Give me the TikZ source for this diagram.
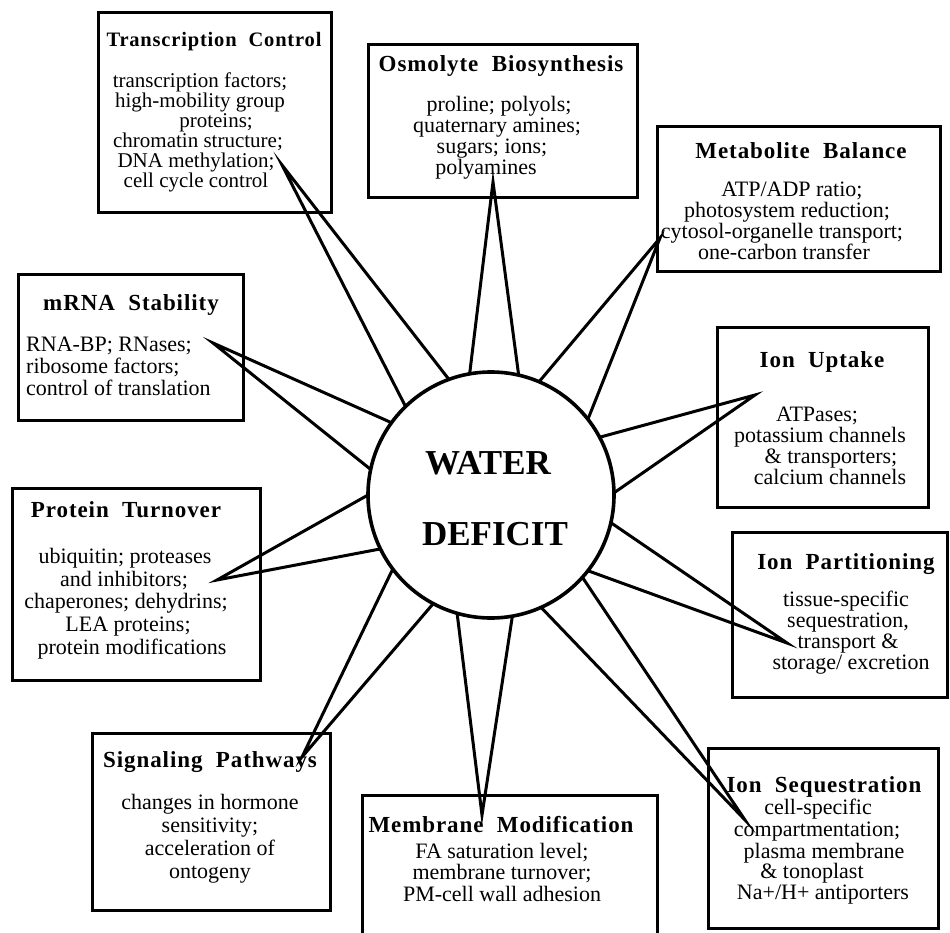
\documentclass[tikz,border=0pt]{standalone}
\usepackage{fontspec}
\setmainfont{Liberation Serif}
\newfontfamily\ttlfont[LetterSpace=4]{Liberation Serif}
\begin{document}
\begin{tikzpicture}[x=1pt,y=-1pt,
  box/.style={draw, line width=3pt, anchor=north west, inner sep=0pt, outer sep=0pt},
  ttl/.style={font=\ttlfont\bfseries\fontsize{23}{23}\selectfont, anchor=base, inner sep=0pt},
  bodytxt/.style={font=\fontsize{22}{22}\selectfont, anchor=base, inner sep=0pt},
  smalltxt/.style={font=\fontsize{21}{21}\selectfont, anchor=base, inner sep=0pt},
  spike/.style={line width=3pt, line join=miter, miter limit=30},
  hub/.style={circle, draw, line width=3.6pt, fill=white, minimum size=246pt, inner sep=0pt, outer sep=0pt},
  hubtxt/.style={font=\bfseries\fontsize{35}{35}\selectfont, anchor=base, inner sep=0pt}]
\useasboundingbox (0,0) rectangle (950,933);
\fill[white] (0,0) rectangle (950,933);
\clip (0,0) rectangle (950,933);

% boxes
\node[box, minimum width=233pt, minimum height=200pt] (tc) at (98,13) {};
\node[box, minimum width=269pt, minimum height=153pt] (ob) at (368,45) {};
\node[box, minimum width=283pt, minimum height=145pt] (mb) at (657,127) {};
\node[box, minimum width=225pt, minimum height=145pt] (ms) at (18,275) {};
\node[box, minimum width=211pt, minimum height=180pt] (iu) at (717,327) {};
\node[box, minimum width=248pt, minimum height=192pt] (pt) at (12,488) {};
\node[box, minimum width=215pt, minimum height=165pt] (ip) at (732,532) {};
\node[box, minimum width=238pt, minimum height=177pt] (sp) at (92,733) {};
\node[box, minimum width=295pt, minimum height=160pt] (mm) at (362,795) {};
\node[box, minimum width=230pt, minimum height=180pt] (is) at (708,748) {};

% titles
\node[ttl, font=\ttlfont\bfseries\fontsize{20.5}{21}\selectfont] (tct) at (214,47) {Transcription~~Control};
\node[ttl] (obt) at (501,72) {Osmolyte~~Biosynthesis};
\node[ttl] (mbt) at (801,159) {Metabolite~~Balance};
\node[ttl] (mst) at (131,310) {mRNA~~Stability};
\node[ttl] (iut) at (822,367) {Ion~~Uptake};
\node[ttl] (ptt) at (126,517) {Protein~~Turnover};
\node[ttl] (ipt) at (846,569) {Ion~~Partitioning};
\node[ttl] (spt) at (210,767) {Signaling~~Pathways};
\node[ttl] (mmt) at (501,832) {Membrane~~Modification};
\node[ttl] (ist) at (824,792) {Ion~~Sequestration};

% body texts
\foreach \t/\x/\y [count=\i] in {{transcription factors;}/200/82, {high-mobility group}/200/102, {proteins;}/216/122, {chromatin structure;}/198/142, {DNA methylation;}/196/162, {cell cycle control}/196/182}
  \node[smalltxt] (tcl\i) at (\x,\y+6) {\t};
\foreach \t/\x/\y [count=\i] in {{proline; polyols;}/499/106, {quaternary amines;}/497/127, {sugars; ions;}/492/148, {polyamines}/486/169}
  \node[bodytxt] (obl\i) at (\x,\y+6) {\t};
\foreach \t/\x/\y [count=\i] in {{ATP/ADP ratio;}/792/191, {photosystem reduction;}/787/212, {cytosol-organelle transport;}/782/233, {one-carbon transfer}/784/254}
  \node[bodytxt] (mbl\i) at (\x,\y+6) {\t};
\foreach \t/\y [count=\i] in {{RNA-BP; RNases;}/345, {ribosome factors;}/367, {control of translation}/389}
  \node[bodytxt, anchor=base west] (msl\i) at (26,\y+6) {\t};
\foreach \t/\x/\y [count=\i] in {{ATPases;}/817/415, {potassium channels}/820/436, {\& transporters;}/831/457, {calcium channels}/830/478}
  \node[bodytxt] (iul\i) at (\x,\y+6) {\t};
\foreach \t/\x/\y [count=\i] in {{ubiquitin; proteases}/125/557, {and inhibitors;}/124/580, {chaperones; dehydrins;}/126/602, {LEA proteins;}/128/625, {protein modifications}/132/648}
  \node[bodytxt] (ptl\i) at (\x,\y+6) {\t};
\foreach \t/\x/\y [count=\i] in {{tissue-specific}/846/600, {sequestration,}/848/621, {transport \&}/848/642, {storage/ excretion}/851/663}
  \node[bodytxt] (ipl\i) at (\x,\y+6) {\t};
\foreach \t/\x/\y [count=\i] in {{changes in hormone}/210/803, {sensitivity;}/210/826, {acceleration of}/210/849, {ontogeny}/210/872}
  \node[bodytxt] (spl\i) at (\x,\y+6) {\t};
\foreach \t/\x/\y [count=\i] in {{FA saturation level;}/502/852, {membrane turnover;}/502/873, {PM-cell wall adhesion}/502/895}
  \node[bodytxt] (mml\i) at (\x,\y+6) {\t};
\foreach \t/\x/\y [count=\i] in {{cell-specific}/818/808, {compartmentation;}/817/830, {plasma membrane}/824/852, {\& tonoplast}/812/872, {Na+/H+ antiporters}/823/893}
  \node[bodytxt] (isl\i) at (\x,\y+6) {\t};

% hub
\node[hub] (wd) at (491,495) {};
\node[hubtxt] (wd1) at (488,474) {WATER};
\node[hubtxt] (wd2) at (495,545) {DEFICIT};

% spike tips
\coordinate (ttc) at (282,165);
\coordinate (tob) at (493,182);
\coordinate (tmb) at (660,238);
\coordinate (tms) at (213,343);
\coordinate (tiu) at (755,395);
\coordinate (tpt) at (217,580);
\coordinate (tip) at (787,643);
\coordinate (tsp) at (302,757);
\coordinate (tmm) at (482,815);
\coordinate (tis) at (745,820);

\draw[spike] (wd.134) -- (ttc) -- (wd.110);
\draw[spike] (wd.100) -- (tob) -- (wd.77);
\draw[spike] (wd.67) -- (tmb) -- (wd.38);
\draw[spike] (wd.168) -- (tms) -- (wd.144);
\draw[spike] (wd.28) -- (tiu) -- (wd.1);
\draw[spike] (wd.206) -- (tpt) -- (wd.180);
\draw[spike] (wd.-13) -- (tip) -- (wd.-38);
\draw[spike] (wd.-118) -- (tsp) -- (wd.-143);
\draw[spike] (wd.-80) -- (tmm) -- (wd.-106);
\draw[spike] (wd.-42) -- (tis) -- (wd.-66);
\end{tikzpicture}
\end{document}
